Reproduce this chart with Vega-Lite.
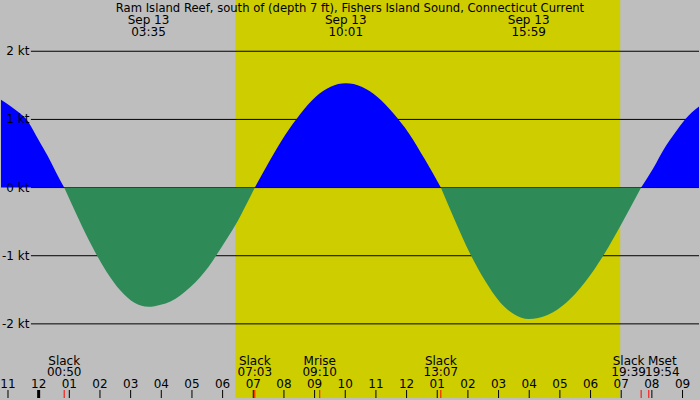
{
  "$schema": "https://vega.github.io/schema/vega-lite/v6.json",
  "width": 700,
  "height": 400,
  "autosize": {"type": "fit", "contains": "padding"},
  "padding": 0,
  "background": "#bebebe",
  "view": {"stroke": null},
  "config": {
    "axis": {"disable": true},
    "text": {"font": "DejaVu Sans", "fontSize": 12, "color": "#000000"}
  },
  "datasets": {
    "current": [
      {"t": -1.228, "v": 1.29, "dir": "flood", "seg": "A"},
      {"t": -0.902, "v": 1.19, "dir": "flood", "seg": "A"},
      {"t": -0.642, "v": 1.10, "dir": "flood", "seg": "A"},
      {"t": -0.382, "v": 0.99, "dir": "flood", "seg": "A"},
      {"t": -0.187, "v": 0.85, "dir": "flood", "seg": "A"},
      {"t": 0.008, "v": 0.69, "dir": "flood", "seg": "A"},
      {"t": 0.301, "v": 0.46, "dir": "flood", "seg": "A"},
      {"t": 0.561, "v": 0.23, "dir": "flood", "seg": "A"},
      {"t": 0.833, "v": 0, "dir": "flood", "seg": "A"},
      {"t": 0.833, "v": 0, "dir": "ebb", "seg": "B"},
      {"t": 1.292, "v": -0.45, "dir": "ebb", "seg": "B"},
      {"t": 1.75, "v": -0.87, "dir": "ebb", "seg": "B"},
      {"t": 2.208, "v": -1.23, "dir": "ebb", "seg": "B"},
      {"t": 2.667, "v": -1.51, "dir": "ebb", "seg": "B"},
      {"t": 3.125, "v": -1.69, "dir": "ebb", "seg": "B"},
      {"t": 3.583, "v": -1.75, "dir": "ebb", "seg": "B"},
      {"t": 3.98, "v": -1.72, "dir": "ebb", "seg": "B"},
      {"t": 4.3, "v": -1.67, "dir": "ebb", "seg": "B"},
      {"t": 4.63, "v": -1.58, "dir": "ebb", "seg": "B"},
      {"t": 4.95, "v": -1.46, "dir": "ebb", "seg": "B"},
      {"t": 5.28, "v": -1.31, "dir": "ebb", "seg": "B"},
      {"t": 5.55, "v": -1.16, "dir": "ebb", "seg": "B"},
      {"t": 5.8, "v": -0.99, "dir": "ebb", "seg": "B"},
      {"t": 6.14, "v": -0.75, "dir": "ebb", "seg": "B"},
      {"t": 6.47, "v": -0.51, "dir": "ebb", "seg": "B"},
      {"t": 6.76, "v": -0.26, "dir": "ebb", "seg": "B"},
      {"t": 7.05, "v": 0, "dir": "ebb", "seg": "B"},
      {"t": 7.05, "v": 0, "dir": "flood", "seg": "C"},
      {"t": 7.544, "v": 0.40, "dir": "flood", "seg": "C"},
      {"t": 8.039, "v": 0.77, "dir": "flood", "seg": "C"},
      {"t": 8.533, "v": 1.08, "dir": "flood", "seg": "C"},
      {"t": 9.028, "v": 1.33, "dir": "flood", "seg": "C"},
      {"t": 9.522, "v": 1.48, "dir": "flood", "seg": "C"},
      {"t": 10.017, "v": 1.53, "dir": "flood", "seg": "C"},
      {"t": 10.533, "v": 1.48, "dir": "flood", "seg": "C"},
      {"t": 11.05, "v": 1.33, "dir": "flood", "seg": "C"},
      {"t": 11.567, "v": 1.09, "dir": "flood", "seg": "C"},
      {"t": 12.083, "v": 0.79, "dir": "flood", "seg": "C"},
      {"t": 12.6, "v": 0.41, "dir": "flood", "seg": "C"},
      {"t": 13.117, "v": 0, "dir": "flood", "seg": "C"},
      {"t": 13.117, "v": 0, "dir": "ebb", "seg": "D"},
      {"t": 13.594, "v": -0.50, "dir": "ebb", "seg": "D"},
      {"t": 14.072, "v": -0.97, "dir": "ebb", "seg": "D"},
      {"t": 14.55, "v": -1.36, "dir": "ebb", "seg": "D"},
      {"t": 15.028, "v": -1.67, "dir": "ebb", "seg": "D"},
      {"t": 15.506, "v": -1.86, "dir": "ebb", "seg": "D"},
      {"t": 15.983, "v": -1.93, "dir": "ebb", "seg": "D"},
      {"t": 16.594, "v": -1.87, "dir": "ebb", "seg": "D"},
      {"t": 17.206, "v": -1.69, "dir": "ebb", "seg": "D"},
      {"t": 17.817, "v": -1.39, "dir": "ebb", "seg": "D"},
      {"t": 18.428, "v": -0.99, "dir": "ebb", "seg": "D"},
      {"t": 19.039, "v": -0.51, "dir": "ebb", "seg": "D"},
      {"t": 19.65, "v": 0, "dir": "ebb", "seg": "D"},
      {"t": 19.65, "v": 0, "dir": "flood", "seg": "E"},
      {"t": 20.04, "v": 0.28, "dir": "flood", "seg": "E"},
      {"t": 20.4, "v": 0.57, "dir": "flood", "seg": "E"},
      {"t": 20.75, "v": 0.80, "dir": "flood", "seg": "E"},
      {"t": 21.08, "v": 1.00, "dir": "flood", "seg": "E"},
      {"t": 21.537, "v": 1.19, "dir": "flood", "seg": "E"}
    ],
    "grid": [
      {"v": 2, "label": "2 kt"},
      {"v": 1, "label": "1 kt"},
      {"v": 0, "label": "0 kt"},
      {"v": -1, "label": "-1 kt"},
      {"v": -2, "label": "-2 kt"}
    ],
    "hours": [
      {"t": -1, "label": "11"}, {"t": 0, "label": "12"}, {"t": 1, "label": "01"},
      {"t": 2, "label": "02"}, {"t": 3, "label": "03"}, {"t": 4, "label": "04"},
      {"t": 5, "label": "05"}, {"t": 6, "label": "06"}, {"t": 7, "label": "07"},
      {"t": 8, "label": "08"}, {"t": 9, "label": "09"}, {"t": 10, "label": "10"},
      {"t": 11, "label": "11"}, {"t": 12, "label": "12"}, {"t": 13, "label": "01"},
      {"t": 14, "label": "02"}, {"t": 15, "label": "03"}, {"t": 16, "label": "04"},
      {"t": 17, "label": "05"}, {"t": 18, "label": "06"}, {"t": 19, "label": "07"},
      {"t": 20, "label": "08"}, {"t": 21, "label": "09"}
    ],
    "events": [
      {"t": 0.833, "name": "Slack", "time": "00:50"},
      {"t": 7.05, "name": "Slack", "time": "07:03"},
      {"t": 9.167, "name": "Mrise", "time": "09:10"},
      {"t": 13.117, "name": "Slack", "time": "13:07"},
      {"t": 19.65, "name": "Slack", "time": "19:39"},
      {"t": 19.9, "name": "Mset", "time": "19:54"}
    ],
    "peaks": [
      {"t": 3.583, "date": "Sep 13", "time": "03:35"},
      {"t": 10.017, "date": "Sep 13", "time": "10:01"},
      {"t": 15.983, "date": "Sep 13", "time": "15:59"}
    ]
  },
  "layer": [
    {
      "data": {"values": [{"start": 6.417, "end": 18.967}]},
      "mark": {"type": "rect", "color": "#cdcd00"},
      "encoding": {
        "x": {"field": "start", "type": "quantitative", "axis": null, "scale": {"domain": [-1.228, 21.537], "nice": false, "zero": false}},
        "x2": {"field": "end"}
      }
    },
    {
      "data": {"name": "grid"},
      "mark": {"type": "rule", "color": "#000000", "strokeWidth": 1},
      "encoding": {
        "x": {"datum": -0.252, "type": "quantitative", "axis": null, "scale": {"domain": [-1.228, 21.537], "nice": false, "zero": false}},
        "x2": {"datum": 21.537},
        "y": {"field": "v", "type": "quantitative", "axis": null, "scale": {"domain": [-3.0876, 2.752], "nice": false, "zero": false}}
      }
    },
    {
      "data": {"name": "current"},
      "mark": {"type": "area", "interpolate": "monotone"},
      "encoding": {
        "x": {"field": "t", "type": "quantitative", "axis": null, "scale": {"domain": [-1.228, 21.537], "nice": false, "zero": false}},
        "y": {"field": "v", "type": "quantitative", "stack": null, "axis": null, "scale": {"domain": [-3.0876, 2.752], "nice": false, "zero": false}},
        "y2": {"datum": 0},
        "detail": {"field": "seg"},
        "color": {"field": "dir", "type": "nominal", "legend": null, "scale": {"domain": ["flood", "ebb"], "range": ["#0000ff", "#2e8b57"]}}
      }
    },
    {
      "data": {"name": "grid"},
      "mark": {"type": "text", "align": "right", "baseline": "middle"},
      "encoding": {
        "x": {"datum": -0.301, "type": "quantitative", "axis": null, "scale": {"domain": [-1.228, 21.537], "nice": false, "zero": false}},
        "y": {"field": "v", "type": "quantitative", "axis": null, "scale": {"domain": [-3.0876, 2.752], "nice": false, "zero": false}},
        "text": {"field": "label"}
      }
    },
    {
      "data": {"values": [{"title": "Ram Island Reef, south of (depth 7 ft), Fishers Island Sound, Connecticut Current"}]},
      "mark": {"type": "text", "align": "center", "baseline": "alphabetic", "fontSize": 11.6},
      "encoding": {
        "x": {"datum": 10.154, "type": "quantitative", "axis": null, "scale": {"domain": [-1.228, 21.537], "nice": false, "zero": false}},
        "y": {"datum": 2.57, "type": "quantitative", "axis": null, "scale": {"domain": [-3.0876, 2.752], "nice": false, "zero": false}},
        "text": {"field": "title"}
      }
    },
    {
      "data": {"name": "peaks"},
      "mark": {"type": "text", "align": "center", "baseline": "alphabetic"},
      "encoding": {
        "x": {"field": "t", "type": "quantitative", "axis": null, "scale": {"domain": [-1.228, 21.537], "nice": false, "zero": false}},
        "y": {"datum": 2.40, "type": "quantitative", "axis": null, "scale": {"domain": [-3.0876, 2.752], "nice": false, "zero": false}},
        "text": {"field": "date"}
      }
    },
    {
      "data": {"name": "peaks"},
      "mark": {"type": "text", "align": "center", "baseline": "alphabetic"},
      "encoding": {
        "x": {"field": "t", "type": "quantitative", "axis": null, "scale": {"domain": [-1.228, 21.537], "nice": false, "zero": false}},
        "y": {"datum": 2.227, "type": "quantitative", "axis": null, "scale": {"domain": [-3.0876, 2.752], "nice": false, "zero": false}},
        "text": {"field": "time"}
      }
    },
    {
      "data": {"name": "hours"},
      "mark": {"type": "rule", "color": "#000000", "strokeWidth": 1},
      "encoding": {
        "x": {"field": "t", "type": "quantitative", "axis": null, "scale": {"domain": [-1.228, 21.537], "nice": false, "zero": false}},
        "y": {"datum": -2.97, "type": "quantitative", "axis": null, "scale": {"domain": [-3.0876, 2.752], "nice": false, "zero": false}},
        "y2": {"datum": -3.0876}
      }
    },
    {
      "data": {"values": [{"t": 0}]},
      "mark": {"type": "rule", "color": "#000000", "strokeWidth": 3},
      "encoding": {
        "x": {"field": "t", "type": "quantitative", "axis": null, "scale": {"domain": [-1.228, 21.537], "nice": false, "zero": false}},
        "y": {"datum": -2.97, "type": "quantitative", "axis": null, "scale": {"domain": [-3.0876, 2.752], "nice": false, "zero": false}},
        "y2": {"datum": -3.0876}
      }
    },
    {
      "data": {"name": "events"},
      "mark": {"type": "rule", "color": "#ff0000", "strokeWidth": 1},
      "encoding": {
        "x": {"field": "t", "type": "quantitative", "axis": null, "scale": {"domain": [-1.228, 21.537], "nice": false, "zero": false}},
        "y": {"datum": -2.97, "type": "quantitative", "axis": null, "scale": {"domain": [-3.0876, 2.752], "nice": false, "zero": false}},
        "y2": {"datum": -3.0876}
      }
    },
    {
      "data": {"name": "hours"},
      "mark": {"type": "text", "align": "center", "baseline": "alphabetic"},
      "encoding": {
        "x": {"field": "t", "type": "quantitative", "axis": null, "scale": {"domain": [-1.228, 21.537], "nice": false, "zero": false}},
        "y": {"datum": -2.941, "type": "quantitative", "axis": null, "scale": {"domain": [-3.0876, 2.752], "nice": false, "zero": false}},
        "text": {"field": "label"}
      }
    },
    {
      "data": {"name": "events"},
      "transform": [{"filter": "datum.t < 19.5"}],
      "layer": [
        {
          "mark": {"type": "text", "align": "center", "baseline": "alphabetic"},
          "encoding": {
            "x": {"field": "t", "type": "quantitative", "axis": null, "scale": {"domain": [-1.228, 21.537], "nice": false, "zero": false}},
            "y": {"datum": -2.598, "type": "quantitative", "axis": null, "scale": {"domain": [-3.0876, 2.752], "nice": false, "zero": false}},
            "text": {"field": "name"}
          }
        },
        {
          "mark": {"type": "text", "align": "center", "baseline": "alphabetic"},
          "encoding": {
            "x": {"field": "t", "type": "quantitative", "axis": null, "scale": {"domain": [-1.228, 21.537], "nice": false, "zero": false}},
            "y": {"datum": -2.762, "type": "quantitative", "axis": null, "scale": {"domain": [-3.0876, 2.752], "nice": false, "zero": false}},
            "text": {"field": "time"}
          }
        }
      ]
    },
    {
      "data": {"name": "events"},
      "transform": [{"filter": "datum.name == 'Slack' && datum.t > 19.5"}],
      "layer": [
        {
          "mark": {"type": "text", "align": "center", "baseline": "alphabetic", "dx": -12.5},
          "encoding": {
            "x": {"field": "t", "type": "quantitative", "axis": null, "scale": {"domain": [-1.228, 21.537], "nice": false, "zero": false}},
            "y": {"datum": -2.598, "type": "quantitative", "axis": null, "scale": {"domain": [-3.0876, 2.752], "nice": false, "zero": false}},
            "text": {"field": "name"}
          }
        },
        {
          "mark": {"type": "text", "align": "center", "baseline": "alphabetic", "dx": -12.5},
          "encoding": {
            "x": {"field": "t", "type": "quantitative", "axis": null, "scale": {"domain": [-1.228, 21.537], "nice": false, "zero": false}},
            "y": {"datum": -2.762, "type": "quantitative", "axis": null, "scale": {"domain": [-3.0876, 2.752], "nice": false, "zero": false}},
            "text": {"field": "time"}
          }
        }
      ]
    },
    {
      "data": {"name": "events"},
      "transform": [{"filter": "datum.name == 'Mset'"}],
      "layer": [
        {
          "mark": {"type": "text", "align": "center", "baseline": "alphabetic", "dx": 13.5},
          "encoding": {
            "x": {"field": "t", "type": "quantitative", "axis": null, "scale": {"domain": [-1.228, 21.537], "nice": false, "zero": false}},
            "y": {"datum": -2.598, "type": "quantitative", "axis": null, "scale": {"domain": [-3.0876, 2.752], "nice": false, "zero": false}},
            "text": {"field": "name"}
          }
        },
        {
          "mark": {"type": "text", "align": "center", "baseline": "alphabetic", "dx": 13.5},
          "encoding": {
            "x": {"field": "t", "type": "quantitative", "axis": null, "scale": {"domain": [-1.228, 21.537], "nice": false, "zero": false}},
            "y": {"datum": -2.762, "type": "quantitative", "axis": null, "scale": {"domain": [-3.0876, 2.752], "nice": false, "zero": false}},
            "text": {"field": "time"}
          }
        }
      ]
    }
  ]
}
